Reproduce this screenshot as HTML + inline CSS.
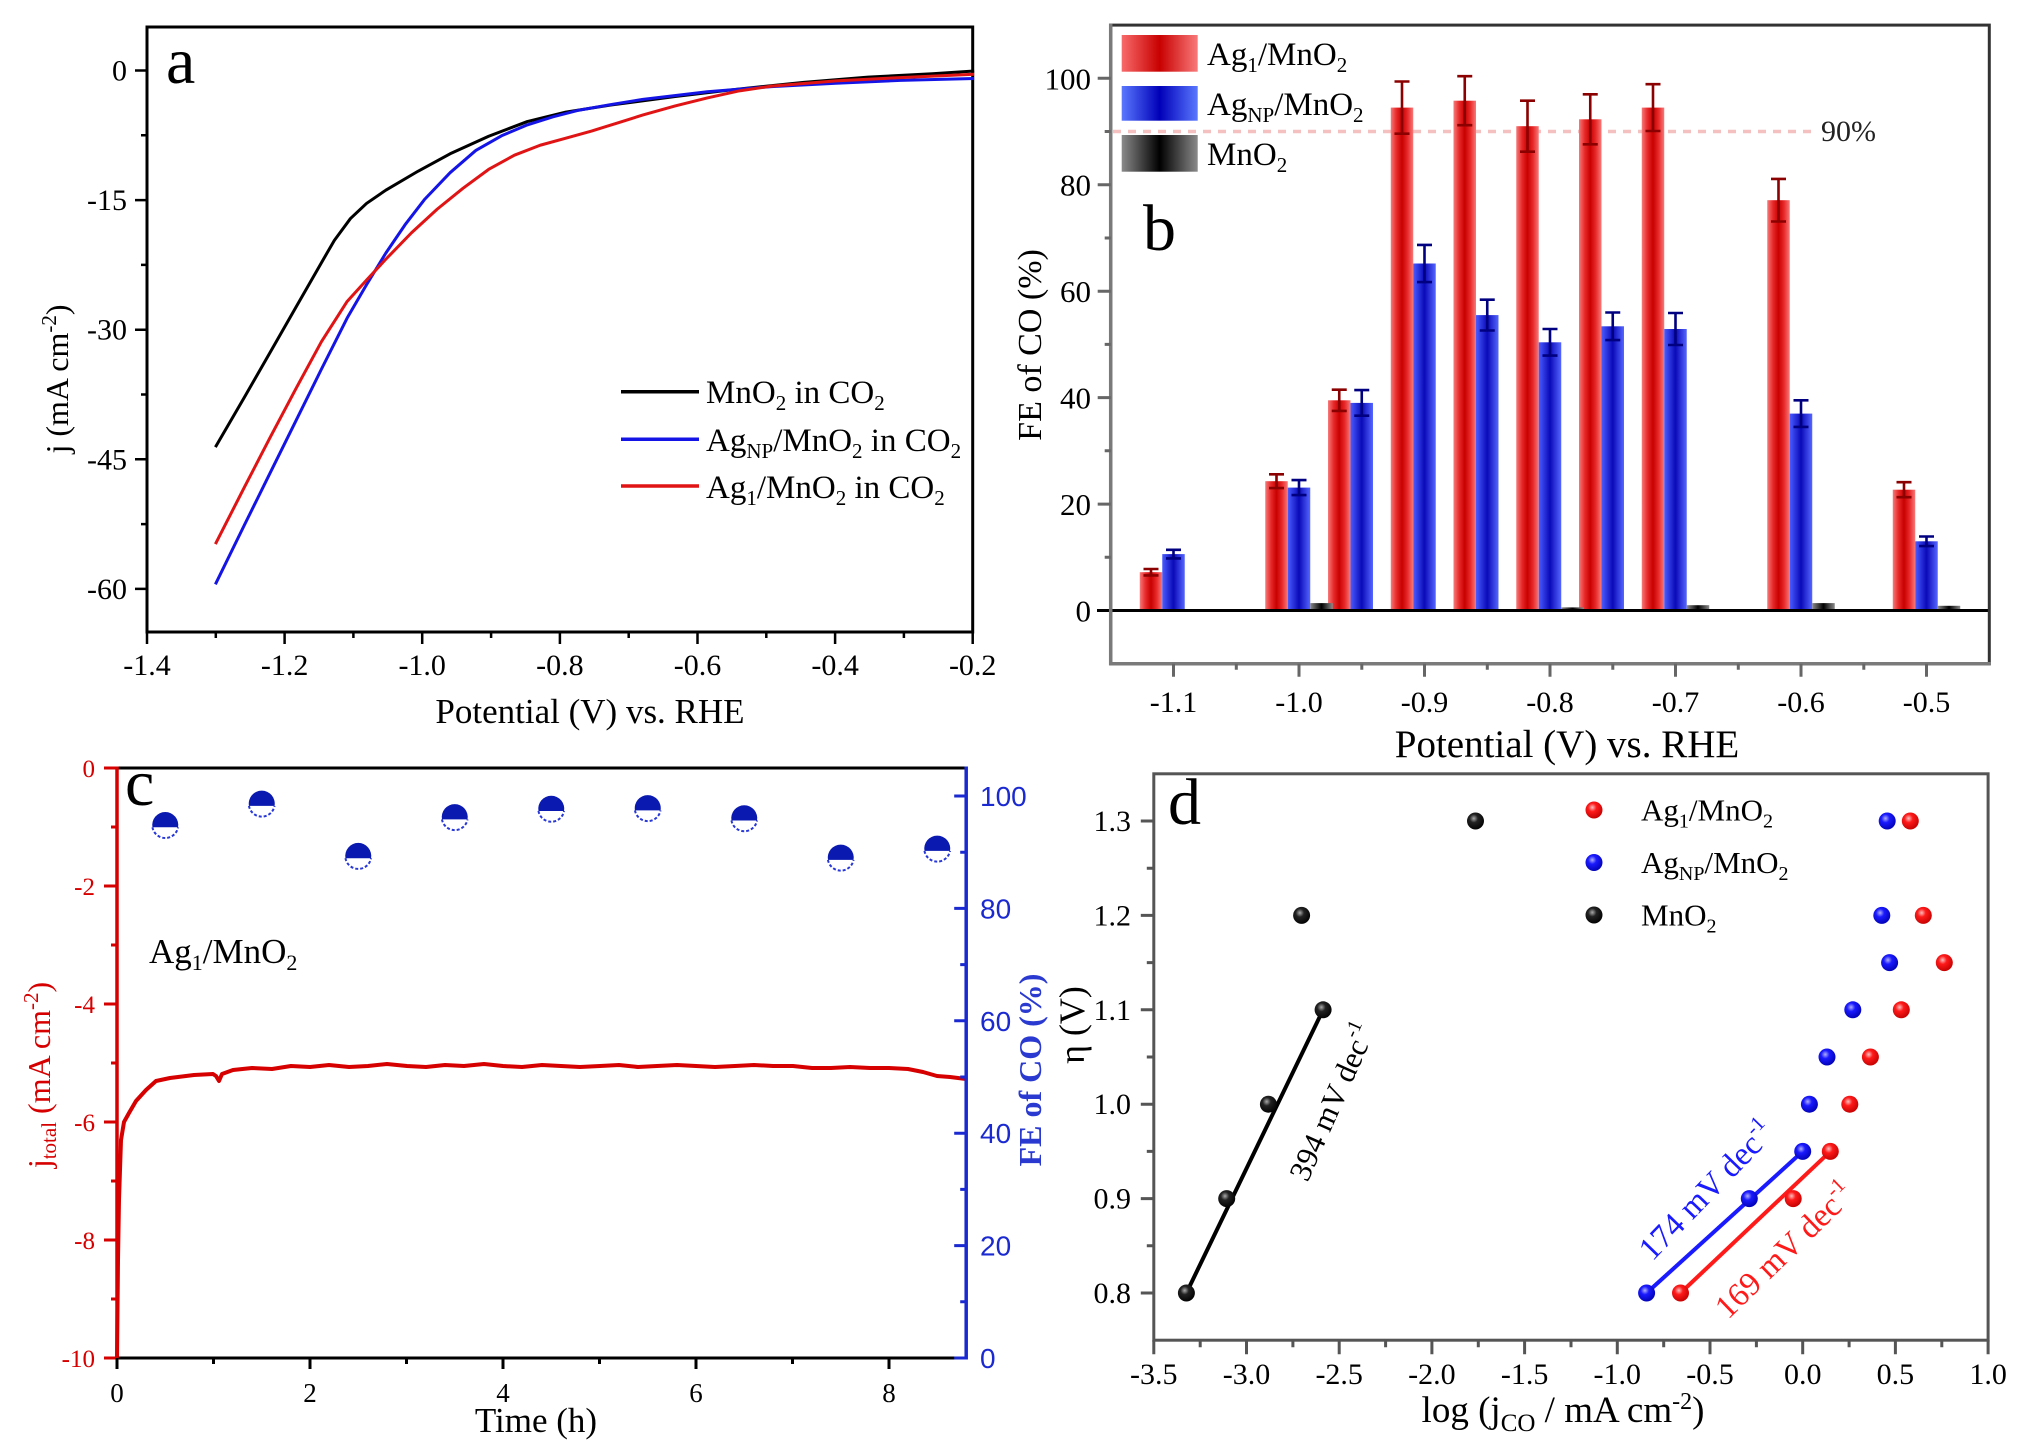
<!DOCTYPE html>
<html><head><meta charset="utf-8"><style>
html,body{margin:0;padding:0;background:#fff;}
svg{display:block;}
text{font-family:"Liberation Serif","DejaVu Serif",serif;}
</style></head><body>
<svg width="2017" height="1451" viewBox="0 0 2017 1451" xmlns="http://www.w3.org/2000/svg" font-family="'Liberation Serif', 'DejaVu Serif', serif">
<defs>
<linearGradient id="gR" x1="0" y1="0" x2="1" y2="0"><stop offset="0" stop-color="#f77a7a"/><stop offset="0.25" stop-color="#e82a2a"/><stop offset="0.5" stop-color="#c80000"/><stop offset="0.75" stop-color="#e82a2a"/><stop offset="1" stop-color="#f77a7a"/></linearGradient>
<linearGradient id="gB" x1="0" y1="0" x2="1" y2="0"><stop offset="0" stop-color="#4a5cff"/><stop offset="0.5" stop-color="#0a0ab8"/><stop offset="1" stop-color="#5566ff"/></linearGradient>
<linearGradient id="gK" x1="0" y1="0" x2="1" y2="0"><stop offset="0" stop-color="#8a8a8a"/><stop offset="0.5" stop-color="#000"/><stop offset="1" stop-color="#8a8a8a"/></linearGradient>
<linearGradient id="lR" x1="0" y1="0" x2="1" y2="0"><stop offset="0" stop-color="#f86a6a"/><stop offset="0.5" stop-color="#c80000"/><stop offset="1" stop-color="#f87a7a"/></linearGradient>
<linearGradient id="lB" x1="0" y1="0" x2="1" y2="0"><stop offset="0" stop-color="#5a78ff"/><stop offset="0.5" stop-color="#0000b8"/><stop offset="1" stop-color="#5a78ff"/></linearGradient>
<radialGradient id="sR" cx="0.4" cy="0.35" r="0.7"><stop offset="0" stop-color="#ffc0c0"/><stop offset="0.35" stop-color="#ff1a1a"/><stop offset="1" stop-color="#c00000"/></radialGradient>
<radialGradient id="sB" cx="0.4" cy="0.35" r="0.7"><stop offset="0" stop-color="#b0b0ff"/><stop offset="0.35" stop-color="#1a1aff"/><stop offset="1" stop-color="#0000b0"/></radialGradient>
<radialGradient id="sK" cx="0.4" cy="0.35" r="0.7"><stop offset="0" stop-color="#aaa"/><stop offset="0.35" stop-color="#222"/><stop offset="1" stop-color="#000"/></radialGradient>
</defs>
<rect width="2017" height="1451" fill="#fff"/>

<!-- ================= PANEL A ================= -->
<g>
<rect x="147" y="27" width="825.7" height="605" fill="none" stroke="#000" stroke-width="3"/>
<path d="M147,632v12M284.6,632v12M422.2,632v12M559.9,632v12M697.5,632v12M835.1,632v12M972.7,632v12
M215.8,632v6M353.4,632v6M491.1,632v6M628.7,632v6M766.3,632v6M903.9,632v6
M147,70.5h-12M147,200.1h-12M147,329.7h-12M147,459.3h-12M147,588.9h-12
M147,135.3h-6M147,264.9h-6M147,394.5h-6M147,524.1h-6" stroke="#000" stroke-width="2.5" fill="none"/>
<g font-size="30" text-anchor="middle" fill="#000">
<text x="147" y="675">-1.4</text><text x="284.6" y="675">-1.2</text><text x="422.2" y="675">-1.0</text><text x="559.9" y="675">-0.8</text><text x="697.5" y="675">-0.6</text><text x="835.1" y="675">-0.4</text><text x="972.7" y="675">-0.2</text>
</g>
<g font-size="30" text-anchor="end" fill="#000">
<text x="127" y="80.5">0</text><text x="127" y="210">-15</text><text x="127" y="339.7">-30</text><text x="127" y="469.3">-45</text><text x="127" y="599">-60</text>
</g>
<text x="590" y="723" font-size="35" text-anchor="middle">Potential (V) vs. RHE</text>
<text transform="translate(68,379) rotate(-90)" font-size="32" text-anchor="middle">j (mA cm<tspan dy="-12" font-size="21">-2</tspan><tspan dy="12">)</tspan></text>
<text x="166" y="83" font-size="66">a</text>
<g transform="matrix(0.643,0,0,0.4731,0,0)" fill="none" stroke-width="3" stroke-linejoin="round">
<path vector-effect="non-scaling-stroke" stroke="#000" d="M335,945 L380,840 L420,745 L460,650 L500,555 L520,508 L545,462 L570,430 L600,402 L650,362 L700,325 L760,288 L820,257 L880,237 L950,222 L1050,204 L1150,188 L1250,174 L1350,163 L1450,156 L1515,150"/>
<path vector-effect="non-scaling-stroke" stroke="#1414e6" d="M335,1235 L380,1110 L420,1000 L460,890 L500,780 L540,672 L570,602 L600,535 L630,475 L660,422 L700,365 L740,318 L780,287 L820,264 L860,247 L900,233 L950,221 L1000,210 L1100,194 L1200,183 L1300,176 L1400,170 L1515,166"/>
<path vector-effect="non-scaling-stroke" stroke="#e01414" d="M335,1150 L380,1030 L420,925 L460,822 L500,722 L540,637 L570,592 L600,548 L640,492 L680,442 L720,398 L760,358 L800,328 L840,307 L880,292 L920,277 L960,260 L1000,243 L1050,224 L1100,207 L1150,192 L1200,182 L1300,171 L1400,164 L1515,157"/>
</g>
<path d="M621,391.7H699" stroke="#000" stroke-width="3.5"/>
<path d="M621,439.3H699" stroke="#1414e6" stroke-width="3.5"/>
<path d="M621,486H699" stroke="#e01414" stroke-width="3.5"/>
<g font-size="33" fill="#000">
<text x="706" y="403">MnO<tspan dy="7" font-size="21">2</tspan><tspan dy="-7"> in CO</tspan><tspan dy="7" font-size="21">2</tspan></text>
<text x="706" y="451">Ag<tspan dy="7" font-size="21">NP</tspan><tspan dy="-7">/MnO</tspan><tspan dy="7" font-size="21">2</tspan><tspan dy="-7"> in CO</tspan><tspan dy="7" font-size="21">2</tspan></text>
<text x="706" y="498">Ag<tspan dy="7" font-size="21">1</tspan><tspan dy="-7">/MnO</tspan><tspan dy="7" font-size="21">2</tspan><tspan dy="-7"> in CO</tspan><tspan dy="7" font-size="21">2</tspan></text>
</g>
</g>

<!-- ================= PANEL B ================= -->
<g>
<path d="M1113,131.5H1812" stroke="#f5c0c0" stroke-width="3.5" stroke-dasharray="8 7"/>
<g>
<rect x="1139.75" y="572.2" width="22.5" height="38.3" fill="url(#gR)"/>
<rect x="1265.25" y="481.2" width="22.5" height="129.3" fill="url(#gR)"/>
<rect x="1328" y="400.3" width="22.5" height="210.2" fill="url(#gR)"/>
<rect x="1390.75" y="107.6" width="22.5" height="502.9" fill="url(#gR)"/>
<rect x="1453.5" y="100.7" width="22.5" height="509.8" fill="url(#gR)"/>
<rect x="1516.25" y="126.2" width="22.5" height="484.3" fill="url(#gR)"/>
<rect x="1579" y="119.3" width="22.5" height="491.2" fill="url(#gR)"/>
<rect x="1641.75" y="107.6" width="22.5" height="502.9" fill="url(#gR)"/>
<rect x="1767.25" y="200.2" width="22.5" height="410.3" fill="url(#gR)"/>
<rect x="1892.75" y="489.7" width="22.5" height="120.8" fill="url(#gR)"/>
<rect x="1162.25" y="554.1" width="22.5" height="56.4" fill="url(#gB)"/>
<rect x="1287.75" y="487.6" width="22.5" height="122.9" fill="url(#gB)"/>
<rect x="1350.5" y="402.9" width="22.5" height="207.6" fill="url(#gB)"/>
<rect x="1413.25" y="263.5" width="22.5" height="347" fill="url(#gB)"/>
<rect x="1476" y="315.1" width="22.5" height="295.4" fill="url(#gB)"/>
<rect x="1538.75" y="342.3" width="22.5" height="268.2" fill="url(#gB)"/>
<rect x="1601.5" y="326.3" width="22.5" height="284.2" fill="url(#gB)"/>
<rect x="1664.25" y="329" width="22.5" height="281.5" fill="url(#gB)"/>
<rect x="1789.75" y="413.6" width="22.5" height="196.9" fill="url(#gB)"/>
<rect x="1915.25" y="541.3" width="22.5" height="69.2" fill="url(#gB)"/>
<rect x="1310.25" y="603.1" width="22.5" height="7.4" fill="url(#gK)"/>
<rect x="1561.25" y="607.4" width="22.5" height="3.1" fill="url(#gK)"/>
<rect x="1686.75" y="605.2" width="22.5" height="5.3" fill="url(#gK)"/>
<rect x="1812.25" y="603.1" width="22.5" height="7.4" fill="url(#gK)"/>
<rect x="1937.75" y="605.8" width="22.5" height="4.7" fill="url(#gK)"/>
</g>
<path fill="none" stroke="#8b0000" stroke-width="2.6" d="M1151,569V575.4M1143.5,569h15M1143.5,575.4h15
M1276.5,474.3V488.1M1269,474.3h15M1269,488.1h15
M1339.25,389.7V410.9M1331.75,389.7h15M1331.75,410.9h15
M1402,81.5V133.7M1394.5,81.5h15M1394.5,133.7h15
M1464.75,76.2V125.2M1457.25,76.2h15M1457.25,125.2h15
M1527.5,100.7V151.7M1520,100.7h15M1520,151.7h15
M1590.25,94.3V144.3M1582.75,94.3h15M1582.75,144.3h15
M1653,84.2V131M1645.5,84.2h15M1645.5,131h15
M1778.5,178.9V221.5M1771,178.9h15M1771,221.5h15
M1904,482.2V497.2M1896.5,482.2h15M1896.5,497.2h15"/>
<path fill="none" stroke="#000080" stroke-width="2.6" d="M1173.5,549.8V558.4M1166,549.8h15M1166,558.4h15
M1299,480.1V495.1M1291.5,480.1h15M1291.5,495.1h15
M1361.75,390.1V415.7M1354.25,390.1h15M1354.25,415.7h15
M1424.5,244.9V282.1M1417,244.9h15M1417,282.1h15
M1487.25,299.7V330.5M1479.75,299.7h15M1479.75,330.5h15
M1550,329V355.6M1542.5,329h15M1542.5,355.6h15
M1612.75,312.5V340.1M1605.25,312.5h15M1605.25,340.1h15
M1675.5,313V345M1668,313h15M1668,345h15
M1801,400.3V426.9M1793.5,400.3h15M1793.5,426.9h15
M1926.5,536.5V546.1M1919,536.5h15M1919,546.1h15"/>
<path d="M1097,610.5H1989.3" stroke="#000" stroke-width="3"/>
<rect x="1110.7" y="25.1" width="878.6" height="638.6" fill="none" stroke="#333" stroke-width="3"/>
<path d="M1110.7,23.6V665.2M1109.2,663.7H1990.8" stroke="#7a7a7a" stroke-width="3.5" fill="none"/>
<path d="M1110.7,504.1h-13M1110.7,397.6h-13M1110.7,291.2h-13M1110.7,184.7h-13M1110.7,78.3h-13
M1110.7,557.3h-6M1110.7,450.8h-6M1110.7,344.4h-6M1110.7,238h-6M1110.7,131.5h-6
M1173.5,663.7v13M1299,663.7v13M1424.5,663.7v13M1550,663.7v13M1675.5,663.7v13M1801,663.7v13M1926.5,663.7v13
M1236.3,663.7v6M1361.8,663.7v6M1487.3,663.7v6M1612.8,663.7v6M1738.3,663.7v6M1863.8,663.7v6" stroke="#666" stroke-width="3" fill="none"/>
<g font-size="31" text-anchor="end" fill="#000">
<text x="1091" y="621.5">0</text><text x="1091" y="515">20</text><text x="1091" y="408.6">40</text><text x="1091" y="302.2">60</text><text x="1091" y="195.7">80</text><text x="1091" y="89.3">100</text>
</g>
<g font-size="30" text-anchor="middle" fill="#000">
<text x="1173.5" y="712">-1.1</text><text x="1299" y="712">-1.0</text><text x="1424.5" y="712">-0.9</text><text x="1550" y="712">-0.8</text><text x="1675.5" y="712">-0.7</text><text x="1801" y="712">-0.6</text><text x="1926.5" y="712">-0.5</text>
</g>
<text x="1567" y="757" font-size="39" text-anchor="middle">Potential (V) vs. RHE</text>
<text transform="translate(1041,345) rotate(-90)" font-size="34" text-anchor="middle">FE of CO (%)</text>
<text x="1821" y="141" font-size="30" fill="#222">90%</text>
<text x="1143" y="250" font-size="66">b</text>
<rect x="1121.7" y="35" width="76" height="36.7" fill="url(#lR)"/>
<rect x="1121.7" y="86" width="76" height="34.7" fill="url(#lB)"/>
<rect x="1121.7" y="135" width="76" height="36.7" fill="url(#gK)"/>
<g font-size="33" fill="#000">
<text x="1207" y="65">Ag<tspan dy="7" font-size="21">1</tspan><tspan dy="-7">/MnO</tspan><tspan dy="7" font-size="21">2</tspan></text>
<text x="1207" y="115">Ag<tspan dy="7" font-size="21">NP</tspan><tspan dy="-7">/MnO</tspan><tspan dy="7" font-size="21">2</tspan></text>
<text x="1207" y="165">MnO<tspan dy="7" font-size="21">2</tspan></text>
</g>
</g>

<!-- ================= PANEL C ================= -->
<g>
<path fill="none" stroke="#d60000" stroke-width="4" stroke-linejoin="round" d="M117,1358 L118,1260 L119,1200 L121,1140 L124,1122 L129,1113 L136,1101 L146,1090 L156,1081 L170,1078 L194,1075 L213,1074 L216,1076 L219,1081 L222,1074 L233,1070 L252,1068 L272,1069 L291,1066 L310,1067 L329,1065 L349,1067 L368,1066 L387,1064 L407,1066 L426,1067 L445,1065 L464,1066 L484,1064 L503,1066 L522,1067 L542,1065 L561,1066 L580,1067 L600,1066 L619,1065 L638,1067 L657,1066 L677,1065 L696,1066 L715,1067 L735,1066 L754,1065 L773,1066 L793,1066 L812,1068 L831,1068 L850,1067 L870,1068 L889,1068 L908,1069 L923,1072 L937,1076 L950,1077 L966,1079"/>
<path d="M115.5,768H967.5M115.5,1358H967.5" stroke="#000" stroke-width="3"/>
<path d="M117,766.5V1359.5" stroke="#d60000" stroke-width="3.5"/>
<path d="M966.2,766.5V1359.5" stroke="#1a2ad0" stroke-width="3.5"/>
<path d="M117,768h-13M117,886h-13M117,1004h-13M117,1122h-13M117,1240h-13M117,1358h-13
M117,827h-6M117,945h-6M117,1063h-6M117,1181h-6M117,1299h-6" stroke="#d60000" stroke-width="3"/>
<path d="M966.2,1358h-12M966.2,1245.6h-12M966.2,1133.2h-12M966.2,1020.8h-12M966.2,908.4h-12M966.2,796h-12
M966.2,1301.8h-6M966.2,1189.4h-6M966.2,1077h-6M966.2,964.6h-6M966.2,852.2h-6" stroke="#1a2ad0" stroke-width="3"/>
<path d="M117,1358v11M310,1358v11M503,1358v11M696,1358v11M889,1358v11
M213.5,1358v6M406.5,1358v6M599.5,1358v6M792.5,1358v6" stroke="#000" stroke-width="3"/>
<g font-size="25" text-anchor="end" fill="#d60000">
<text x="95" y="777">0</text><text x="95" y="895">-2</text><text x="95" y="1013">-4</text><text x="95" y="1131">-6</text><text x="95" y="1249">-8</text><text x="95" y="1367">-10</text>
</g>
<g font-size="28" fill="#1a2ad0" font-family="'Liberation Sans', 'DejaVu Sans', sans-serif">
<text x="980" y="1368" style="font-family:'Liberation Sans',sans-serif">0</text>
<text x="980" y="1255.6" style="font-family:'Liberation Sans',sans-serif">20</text>
<text x="980" y="1143.2" style="font-family:'Liberation Sans',sans-serif">40</text>
<text x="980" y="1030.8" style="font-family:'Liberation Sans',sans-serif">60</text>
<text x="980" y="918.4" style="font-family:'Liberation Sans',sans-serif">80</text>
<text x="980" y="806" style="font-family:'Liberation Sans',sans-serif">100</text>
</g>
<g font-size="27" text-anchor="middle" fill="#000">
<text x="117" y="1402">0</text><text x="310" y="1402">2</text><text x="503" y="1402">4</text><text x="696" y="1402">6</text><text x="889" y="1402">8</text>
</g>
<text x="536" y="1432" font-size="35" text-anchor="middle">Time (h)</text>
<text transform="translate(50,1075) rotate(-90)" font-size="32" text-anchor="middle" fill="#d60000">j<tspan dy="6" font-size="21">total</tspan><tspan dy="-6"> (mA cm</tspan><tspan dy="-12" font-size="21">-2</tspan><tspan dy="12">)</tspan></text>
<text transform="translate(1041,1070) rotate(-90)" font-size="32" font-weight="bold" text-anchor="middle" fill="#2a3ad0">FE of CO (%)</text>
<text x="125" y="805" font-size="66">c</text>
<text x="149" y="963" font-size="35">Ag<tspan dy="7" font-size="22">1</tspan><tspan dy="-7">/MnO</tspan><tspan dy="7" font-size="22">2</tspan></text>
<g>
<g transform="translate(165.25,825.8)"><path d="M-12.8,1.5A13,13 0 0 0 12.8,1.5" fill="#fff" stroke="#2838d8" stroke-width="2" stroke-dasharray="3 2"/><path d="M-12.8,1.5A13,13 0 1 1 12.8,1.5Z" fill="#0a1ab0"/></g>
<g transform="translate(261.75,804.4)"><path d="M-12.8,1.5A13,13 0 0 0 12.8,1.5" fill="#fff" stroke="#2838d8" stroke-width="2" stroke-dasharray="3 2"/><path d="M-12.8,1.5A13,13 0 1 1 12.8,1.5Z" fill="#0a1ab0"/></g>
<g transform="translate(358.25,856.7)"><path d="M-12.8,1.5A13,13 0 0 0 12.8,1.5" fill="#fff" stroke="#2838d8" stroke-width="2" stroke-dasharray="3 2"/><path d="M-12.8,1.5A13,13 0 1 1 12.8,1.5Z" fill="#0a1ab0"/></g>
<g transform="translate(454.75,817.9)"><path d="M-12.8,1.5A13,13 0 0 0 12.8,1.5" fill="#fff" stroke="#2838d8" stroke-width="2" stroke-dasharray="3 2"/><path d="M-12.8,1.5A13,13 0 1 1 12.8,1.5Z" fill="#0a1ab0"/></g>
<g transform="translate(551.25,809.5)"><path d="M-12.8,1.5A13,13 0 0 0 12.8,1.5" fill="#fff" stroke="#2838d8" stroke-width="2" stroke-dasharray="3 2"/><path d="M-12.8,1.5A13,13 0 1 1 12.8,1.5Z" fill="#0a1ab0"/></g>
<g transform="translate(647.75,808.9)"><path d="M-12.8,1.5A13,13 0 0 0 12.8,1.5" fill="#fff" stroke="#2838d8" stroke-width="2" stroke-dasharray="3 2"/><path d="M-12.8,1.5A13,13 0 1 1 12.8,1.5Z" fill="#0a1ab0"/></g>
<g transform="translate(744.25,819)"><path d="M-12.8,1.5A13,13 0 0 0 12.8,1.5" fill="#fff" stroke="#2838d8" stroke-width="2" stroke-dasharray="3 2"/><path d="M-12.8,1.5A13,13 0 1 1 12.8,1.5Z" fill="#0a1ab0"/></g>
<g transform="translate(840.75,858.4)"><path d="M-12.8,1.5A13,13 0 0 0 12.8,1.5" fill="#fff" stroke="#2838d8" stroke-width="2" stroke-dasharray="3 2"/><path d="M-12.8,1.5A13,13 0 1 1 12.8,1.5Z" fill="#0a1ab0"/></g>
<g transform="translate(937.25,849.4)"><path d="M-12.8,1.5A13,13 0 0 0 12.8,1.5" fill="#fff" stroke="#2838d8" stroke-width="2" stroke-dasharray="3 2"/><path d="M-12.8,1.5A13,13 0 1 1 12.8,1.5Z" fill="#0a1ab0"/></g>
</g>
</g>

<!-- ================= PANEL D ================= -->
<g>
<rect x="1153.8" y="773.8" width="834.3" height="566.4" fill="none" stroke="#555" stroke-width="3"/>
<path d="M1153.8,1340.2v14M1246.5,1340.2v14M1339.2,1340.2v14M1431.9,1340.2v14M1524.6,1340.2v14M1617.3,1340.2v14M1710,1340.2v14M1802.7,1340.2v14M1895.4,1340.2v14M1988.1,1340.2v14
M1200.2,1340.2v7M1292.9,1340.2v7M1385.6,1340.2v7M1478.3,1340.2v7M1571,1340.2v7M1663.7,1340.2v7M1756.4,1340.2v7M1849.1,1340.2v7M1941.8,1340.2v7
M1153.8,821h-13M1153.8,915.4h-13M1153.8,1009.8h-13M1153.8,1104.2h-13M1153.8,1198.6h-13M1153.8,1293h-13
M1153.8,868.2h-7M1153.8,962.6h-7M1153.8,1057h-7M1153.8,1151.4h-7M1153.8,1245.8h-7" stroke="#555" stroke-width="3" fill="none"/>
<g font-size="30" text-anchor="end" fill="#000">
<text x="1131" y="831">1.3</text><text x="1131" y="925.4">1.2</text><text x="1131" y="1019.8">1.1</text><text x="1131" y="1114.2">1.0</text><text x="1131" y="1208.6">0.9</text><text x="1131" y="1303">0.8</text>
</g>
<g font-size="30" text-anchor="middle" fill="#000">
<text x="1153.8" y="1384">-3.5</text><text x="1246.5" y="1384">-3.0</text><text x="1339.2" y="1384">-2.5</text><text x="1431.9" y="1384">-2.0</text><text x="1524.6" y="1384">-1.5</text><text x="1617.3" y="1384">-1.0</text><text x="1710" y="1384">-0.5</text><text x="1802.7" y="1384">0.0</text><text x="1895.4" y="1384">0.5</text><text x="1988.1" y="1384">1.0</text>
</g>
<text x="1563" y="1422" font-size="37" text-anchor="middle">log (j<tspan dy="9" font-size="25">CO</tspan><tspan dy="-9"> / mA cm</tspan><tspan dy="-13" font-size="24">-2</tspan><tspan dy="13">)</tspan></text>
<text transform="translate(1084,1025) rotate(-90)" font-size="36" text-anchor="middle">η (V)</text>
<text x="1168" y="824" font-size="66">d</text>
<path d="M1186.4,1293L1323.1,1009.8" stroke="#000" stroke-width="4"/>
<path d="M1646.6,1293L1802.7,1151.4" stroke="#1a1aff" stroke-width="4"/>
<path d="M1680.5,1293L1830.3,1151.4" stroke="#ff1a1a" stroke-width="4"/>
<g fill="url(#sK)">
<circle cx="1186.4" cy="1293" r="8.5"/><circle cx="1226.7" cy="1198.6" r="8.5"/><circle cx="1268.4" cy="1104.2" r="8.5"/><circle cx="1323.1" cy="1009.8" r="8.5"/><circle cx="1301.6" cy="915.4" r="8.5"/><circle cx="1475.5" cy="821" r="8.5"/>
</g>
<g fill="url(#sB)">
<circle cx="1646.6" cy="1293" r="8.5"/><circle cx="1749.3" cy="1198.6" r="8.5"/><circle cx="1802.7" cy="1151.4" r="8.5"/><circle cx="1809.4" cy="1104.2" r="8.5"/><circle cx="1827" cy="1057" r="8.5"/><circle cx="1852.8" cy="1009.8" r="8.5"/><circle cx="1889.6" cy="962.6" r="8.5"/><circle cx="1881.8" cy="915.4" r="8.5"/><circle cx="1887.2" cy="821" r="8.5"/>
</g>
<g fill="url(#sR)">
<circle cx="1680.5" cy="1293" r="8.5"/><circle cx="1793.2" cy="1198.6" r="8.5"/><circle cx="1830.3" cy="1151.4" r="8.5"/><circle cx="1849.8" cy="1104.2" r="8.5"/><circle cx="1870.4" cy="1057" r="8.5"/><circle cx="1901.3" cy="1009.8" r="8.5"/><circle cx="1944.3" cy="962.6" r="8.5"/><circle cx="1923.3" cy="915.4" r="8.5"/><circle cx="1910.3" cy="821" r="8.5"/>
</g>
<circle cx="1594" cy="810" r="8.5" fill="url(#sR)"/>
<circle cx="1594" cy="862.5" r="8.5" fill="url(#sB)"/>
<circle cx="1594" cy="915" r="8.5" fill="url(#sK)"/>
<g font-size="31" fill="#000">
<text x="1641" y="820.5">Ag<tspan dy="7" font-size="20">1</tspan><tspan dy="-7">/MnO</tspan><tspan dy="7" font-size="20">2</tspan></text>
<text x="1641" y="873">Ag<tspan dy="7" font-size="20">NP</tspan><tspan dy="-7">/MnO</tspan><tspan dy="7" font-size="20">2</tspan></text>
<text x="1641" y="925.5">MnO<tspan dy="7" font-size="20">2</tspan></text>
</g>
<text transform="translate(1332,1102) rotate(-66)" font-size="31" text-anchor="middle" dominant-baseline="central" fill="#000">394 mV dec<tspan dy="-10" font-size="20">-1</tspan></text>
<text transform="translate(1707,1191) rotate(-46)" font-size="33" text-anchor="middle" dominant-baseline="central" fill="#1a1aff">174 mV dec<tspan dy="-11" font-size="21">-1</tspan></text>
<text transform="translate(1785,1251) rotate(-44)" font-size="33" text-anchor="middle" dominant-baseline="central" fill="#ff1a1a">169 mV dec<tspan dy="-11" font-size="21">-1</tspan></text>
</g>
</svg>
</body></html>
